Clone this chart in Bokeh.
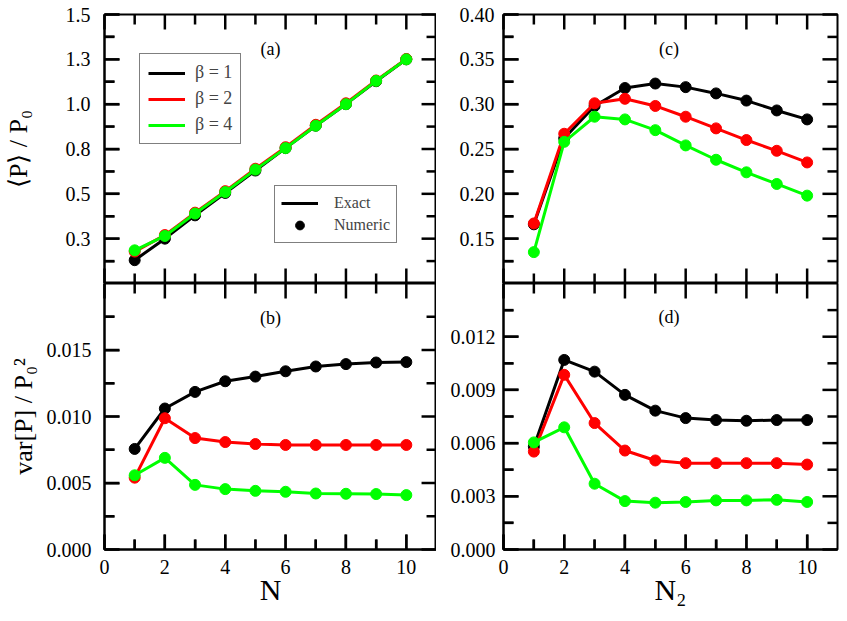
import math

from bokeh.plotting import figure
from bokeh.layouts import gridplot
from bokeh.models import (LinearAxis, FixedTicker, Range1d, Legend, LegendItem,
                          Label, PrintfTickFormatter)
from bokeh.embed import file_html
from bokeh.resources import INLINE

FONT = "Liberation Serif"

# ---------------------------------------------------------------- data
n_values = [1, 2, 3, 4, 5, 6, 7, 8, 9, 10]

# (a) <P>/P0 versus N
mean_n_b1 = [0.130, 0.250, 0.380, 0.505, 0.630, 0.755, 0.880, 1.000, 1.128, 1.250]
mean_n_b2 = [0.178, 0.270, 0.395, 0.515, 0.640, 0.760, 0.885, 1.005, 1.132, 1.252]
mean_n_b4 = [0.185, 0.265, 0.390, 0.510, 0.635, 0.755, 0.880, 1.000, 1.130, 1.250]

# (b) var[P]/P0^2 versus N
var_n_b1 = [0.00756, 0.01060, 0.01185, 0.01265, 0.01300, 0.01340, 0.01376, 0.01394, 0.01406, 0.01409]
var_n_b2 = [0.00540, 0.00987, 0.00838, 0.00808, 0.00793, 0.00786, 0.00786, 0.00786, 0.00786, 0.00786]
var_n_b4 = [0.00558, 0.00689, 0.00486, 0.00454, 0.00441, 0.00434, 0.00421, 0.00419, 0.00417, 0.00409]

# (c) <P>/P0 versus N2
mean_n2_b1 = [0.166, 0.262, 0.298, 0.318, 0.323, 0.319, 0.312, 0.304, 0.293, 0.283]
mean_n2_b2 = [0.167, 0.267, 0.301, 0.306, 0.298, 0.286, 0.273, 0.260, 0.248, 0.235]
mean_n2_b4 = [0.135, 0.258, 0.286, 0.283, 0.271, 0.254, 0.238, 0.224, 0.211, 0.198]

# (d) var[P]/P0^2 versus N2
var_n2_b1 = [0.00580, 0.01069, 0.01003, 0.00872, 0.00783, 0.00741, 0.00730, 0.00726, 0.00730, 0.00730]
var_n2_b2 = [0.00552, 0.00985, 0.00713, 0.00558, 0.00502, 0.00487, 0.00487, 0.00487, 0.00487, 0.00479]
var_n2_b4 = [0.00604, 0.00689, 0.00371, 0.00273, 0.00264, 0.00268, 0.00277, 0.00277, 0.00280, 0.00268]

series_labels = ["β = 1", "β = 2", "β = 4"]
series_colors = ["#000000", "#ff0000", "#00ff00"]

# ---------------------------------------------------------------- ticks
x_ticks = [0, 2, 4, 6, 8, 10]
x_minor = [1, 3, 5, 7, 9]

a_ticks = [0.25, 0.5, 0.75, 1.0, 1.25, 1.5]
a_tick_labels = ["0.3", "0.5", "0.8", "1.0", "1.3", "1.5"]
a_minor = [0.125, 0.375, 0.625, 0.875, 1.125, 1.375]

b_ticks = [0.0, 0.005, 0.010, 0.015]
b_minor = [0.0025, 0.0075, 0.0125, 0.0175]

c_ticks = [0.15, 0.20, 0.25, 0.30, 0.35, 0.40]
c_minor = [0.125, 0.175, 0.225, 0.275, 0.325, 0.375]

d_ticks = [0.0, 0.003, 0.006, 0.009, 0.012]
d_minor = [0.0015, 0.0045, 0.0075, 0.0105, 0.0135]

X_MAX = 11
MAJOR_LEN, MINOR_LEN = 15, 10
FRAME_W = 333  # plot-area width in pixels, shared by all four panels


def style_axis(ax, standoff=12):
    ax.axis_line_color = "black"
    ax.axis_line_width = 2
    ax.major_tick_in = MAJOR_LEN
    ax.major_tick_out = 0
    ax.minor_tick_in = MINOR_LEN
    ax.minor_tick_out = 0
    ax.major_tick_line_color = "black"
    ax.minor_tick_line_color = "black"
    ax.major_tick_line_width = 2
    ax.minor_tick_line_width = 2
    ax.major_label_text_font = FONT
    ax.major_label_text_font_size = "20px"
    ax.major_label_text_color = "black"
    ax.major_label_standoff = standoff
    ax.axis_label_text_font = FONT
    ax.axis_label_text_font_style = "normal"
    ax.axis_label_text_color = "black"


def add_inner_ticks(p, y_lo, y_hi, frame_h, y_major, y_minor):
    """Inward tick marks on the four frame edges, as short segments whose
    lengths are converted from pixels to data units."""
    dx_per_px = X_MAX / FRAME_W
    dy_per_px = (y_hi - y_lo) / frame_h
    style = dict(line_color="black", line_width=2.5, level="overlay")
    for vals, length in ((y_major, MAJOR_LEN), (y_minor, MINOR_LEN)):
        d = length * dx_per_px
        p.segment(x0=[0.0] * len(vals), y0=vals, x1=[d] * len(vals), y1=vals, **style)
        p.segment(x0=[X_MAX] * len(vals), y0=vals, x1=[X_MAX - d] * len(vals), y1=vals, **style)
    for vals, length in ((x_ticks, MAJOR_LEN), (x_minor, MINOR_LEN)):
        d = length * dy_per_px
        p.segment(x0=vals, y0=[y_lo] * len(vals), x1=vals, y1=[y_lo + d] * len(vals), **style)
        p.segment(x0=vals, y0=[y_hi] * len(vals), x1=vals, y1=[y_hi - d] * len(vals), **style)


def make_panel(y_lo, y_hi, y_ticks, y_minor, width, height, borders,
               y_formatter=None, y_overrides=None, y_label=None,
               y_label_size="26px", y_label_standoff=5, y_standoff=12,
               x_label=None, bottom_labels=False):
    left, right, top, bottom = borders
    p = figure(width=width, height=height,
               x_range=Range1d(0, X_MAX), y_range=Range1d(y_lo, y_hi),
               x_axis_location=None, y_axis_location=None,
               min_border_left=left, min_border_right=right,
               min_border_top=top, min_border_bottom=bottom,
               output_backend="svg", toolbar_location=None,
               outline_line_color="black", outline_line_width=2,
               background_fill_color=None, border_fill_color=None)
    p.grid.visible = False

    yl = LinearAxis(ticker=FixedTicker(ticks=y_ticks, minor_ticks=y_minor))
    style_axis(yl, y_standoff)
    if y_formatter is not None:
        yl.formatter = y_formatter
    if y_overrides is not None:
        yl.major_label_overrides = y_overrides
    if y_label:
        yl.axis_label = y_label
        yl.axis_label_text_font_size = y_label_size
        yl.axis_label_standoff = y_label_standoff
    p.add_layout(yl, "left")

    if bottom_labels:
        xb = LinearAxis(ticker=FixedTicker(ticks=x_ticks, minor_ticks=x_minor))
        style_axis(xb, 10)
        if x_label:
            xb.axis_label = x_label
            xb.axis_label_text_font_size = "30px"
            xb.axis_label_standoff = -4
        p.add_layout(xb, "below")

    add_inner_ticks(p, y_lo, y_hi, height - top - bottom, y_ticks, y_minor)
    return p


def draw_series(p, ys):
    lines, dots = [], []
    for y, color in zip(ys, series_colors):
        lines.append(p.line(n_values, y, line_color=color, line_width=3))
        dots.append(p.scatter(n_values, y, size=11, fill_color=color,
                              line_color=color, marker="circle"))
    return lines, dots


def panel_tag(p, text, x, y):
    p.add_layout(Label(x=x, y=y, text=text, text_align="center",
                       text_baseline="middle", text_font=FONT,
                       text_font_size="18px", text_color="black"))


# ---------------------------------------------------------------- panels
LEFT_W, RIGHT_W = 436, 411
TOP_H, BOTTOM_H = 283, 338

pa = make_panel(0, 1.5, a_ticks, a_minor, LEFT_W, TOP_H, (103, 0, 14, 0),
                y_overrides=dict(zip(a_ticks, a_tick_labels)),
                y_label="⟨P⟩ / P₀", y_label_standoff=30, y_standoff=14)
pb = make_panel(0, 0.02, b_ticks, b_minor, LEFT_W, BOTTOM_H, (103, 0, 0, 72),
                y_formatter=PrintfTickFormatter(format="%.3f"),
                y_label="var[P] / P₀²", y_label_standoff=6, y_standoff=13,
                x_label="N", bottom_labels=True)
pc = make_panel(0.1, 0.4, c_ticks, c_minor, RIGHT_W, TOP_H, (67, 10, 14, 0),
                y_formatter=PrintfTickFormatter(format="%.2f"), y_standoff=9)
pd = make_panel(0, 0.015, d_ticks, d_minor, RIGHT_W, BOTTOM_H, (67, 10, 0, 72),
                y_formatter=PrintfTickFormatter(format="%.3f"), y_standoff=8,
                x_label="N₂", bottom_labels=True)

lines_a, dots_a = draw_series(pa, [mean_n_b1, mean_n_b2, mean_n_b4])
draw_series(pb, [var_n_b1, var_n_b2, var_n_b4])
draw_series(pc, [mean_n2_b1, mean_n2_b2, mean_n2_b4])
draw_series(pd, [var_n2_b1, var_n2_b2, var_n2_b4])

panel_tag(pa, "(a)", 5.5, 1.31)
panel_tag(pb, "(b)", 5.5, 0.0174)
panel_tag(pc, "(c)", 5.45, 0.362)
panel_tag(pd, "(d)", 5.45, 0.0131)

# legends in panel (a)
beta_legend = Legend(
    items=[LegendItem(label=lab, renderers=[r]) for lab, r in zip(series_labels, lines_a)],
    location=(35, 139), glyph_width=37, glyph_height=20, spacing=5, padding=8,
    label_standoff=10, label_text_font=FONT, label_text_font_size="18px",
    border_line_color="black", border_line_width=1.5, margin=0,
    background_fill_color="white", background_fill_alpha=1.0)
pa.add_layout(beta_legend)

kind_legend = Legend(
    items=[LegendItem(label="Exact", renderers=[lines_a[0]]),
           LegendItem(label="Numeric", renderers=[dots_a[0]])],
    location=(170, 40), glyph_width=37, glyph_height=22, spacing=-3, padding=6,
    label_standoff=16, label_text_font=FONT, label_text_font_size="16px",
    border_line_color="black", border_line_width=1.5, margin=0,
    background_fill_color="white", background_fill_alpha=1.0)
pa.add_layout(kind_legend)

grid = gridplot([[pa, pc], [pb, pd]], toolbar_location=None)

open("out.html", "w").write(file_html(grid, INLINE))
